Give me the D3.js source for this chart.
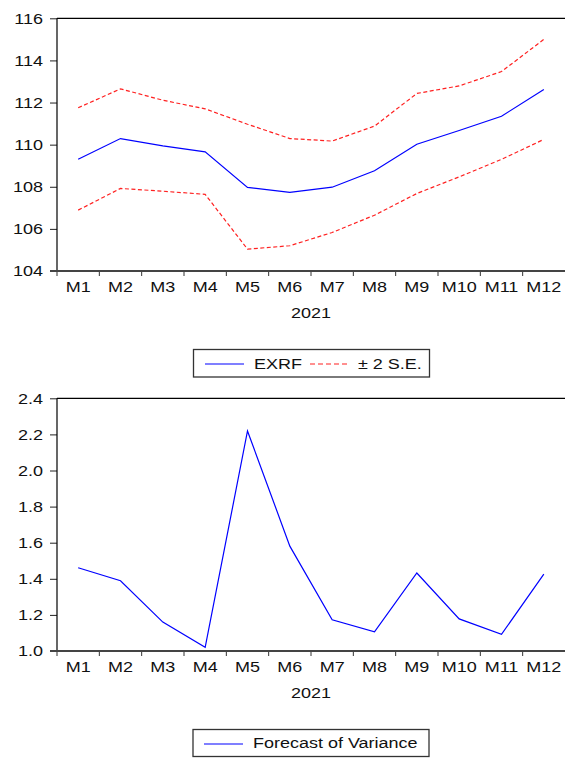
<!DOCTYPE html>
<html>
<head>
<meta charset="utf-8">
<script src="https://cdn.jsdelivr.net/npm/d3@7"></script>
<style>
  html, body { margin: 0; padding: 0; background: #fff; }
  svg { display: block; }
  text { font-family: "Liberation Sans", Arial, sans-serif; fill: #111; }
</style>
</head>
<body>
<script>
// ---------- data ----------
const months = ["M1","M2","M3","M4","M5","M6","M7","M8","M9","M10","M11","M12"];
const exrf    = [109.31,110.29,109.94,109.66,107.97,107.73,107.98,108.76,110.02,110.67,111.35,112.62];
const upperSE = [111.75,112.65,112.11,111.70,110.97,110.29,110.17,110.88,112.43,112.79,113.47,115.00];
const lowerSE = [106.89,107.92,107.79,107.64,105.04,105.20,105.83,106.65,107.68,108.47,109.30,110.25];
const variance = [1.461,1.389,1.160,1.020,2.219,1.581,1.173,1.106,1.432,1.178,1.092,1.426];
const topTicks = [104,106,108,110,112,114,116];
const bottomTicks = [1.0,1.2,1.4,1.6,1.8,2.0,2.2,2.4];
const yearLabel = "2021";
const legendTop = ["EXRF", "± 2 S.E."];
const legendBottom = ["Forecast of Variance"];

// ---------- layout ----------
const W = 565, H = 760;
const SX = 1.2;        // horizontal stretch of the text
const FS = 15;
const left = 57, right = 565;

const svg = d3.select("body").append("svg").attr("width", W).attr("height", H);

const x = d3.scaleBand().domain(months).range([left, right]);
const cx = m => x(m) + x.bandwidth() / 2;

function stretchText(sel) {
  sel.each(function () {
    const t = d3.select(this);
    const xv = +t.attr("x") || 0;
    t.attr("x", xv / SX).attr("transform", `scale(${SX},1)`);
  });
}
function label(g, px, py, txt, anchor) {
  g.append("g").attr("transform", `translate(${px},${py}) scale(${SX},1)`)
    .append("text").attr("text-anchor", anchor || "start")
    .style("font-size", FS + "px").text(txt);
}

function panel(top, bottom, domain, ticks, fmt, series) {
  const g = svg.append("g");
  const y = d3.scaleLinear().domain(domain).range([bottom, top]);

  // y axis
  const ya = g.append("g").attr("transform", `translate(${left},0)`)
    .call(d3.axisLeft(y).tickValues(ticks).tickFormat(fmt).tickSize(7).tickPadding(7));
  ya.select(".domain").remove();
  ya.selectAll(".tick line").attr("stroke", "#222");
  ya.selectAll(".tick text").style("font-size", FS + "px")
    .style("font-family", '"Liberation Sans", Arial, sans-serif').attr("fill", "#111");
  stretchText(ya.selectAll(".tick text"));

  // x axis labels (band centers)
  const xa = g.append("g").attr("transform", `translate(0,${bottom})`)
    .call(d3.axisBottom(x).tickSize(0).tickPadding(10));
  xa.select(".domain").remove();
  xa.selectAll(".tick text").style("font-size", FS + "px")
    .style("font-family", '"Liberation Sans", Arial, sans-serif').attr("fill", "#111");
  stretchText(xa.selectAll(".tick text"));

  // x boundary ticks
  g.append("g").selectAll("line").data(months).join("line")
    .attr("x1", d => x(d)).attr("x2", d => x(d))
    .attr("y1", bottom).attr("y2", bottom + 5)
    .attr("stroke", "#333").attr("stroke-width", 1);

  // frame
  g.append("line").attr("x1", left).attr("x2", right).attr("y1", top).attr("y2", top)
    .attr("stroke", "#000").attr("stroke-width", 1.3);
  g.append("line").attr("x1", left).attr("x2", left).attr("y1", top).attr("y2", bottom)
    .attr("stroke", "#000").attr("stroke-width", 1.2);
  g.append("line").attr("x1", left - 7).attr("x2", right).attr("y1", bottom).attr("y2", bottom)
    .attr("stroke", "#444").attr("stroke-width", 1.8);

  // series
  series.forEach(s => {
    const line = d3.line().x((d, i) => cx(months[i])).y(d => y(d));
    g.append("path").datum(s.values).attr("d", line)
      .attr("fill", "none").attr("stroke", s.color).attr("stroke-width", 1.2)
      .attr("stroke-dasharray", s.dash || null);
  });

  // year label
  label(g, (left + right) / 2, bottom + 47, yearLabel, "middle");
  return g;
}

panel(18.3, 271, [104, 116], topTicks, d3.format("d"), [
  { values: upperSE, color: "#ff2020", dash: "4,2.5" },
  { values: lowerSE, color: "#ff2020", dash: "4,2.5" },
  { values: exrf, color: "#0000ff" }
]);

panel(398.3, 651, [1.0, 2.4], bottomTicks, d3.format(".1f"), [
  { values: variance, color: "#0000ff" }
]);

// ---------- legends ----------
function legendBox(x0, y0, w, h) {
  svg.append("rect").attr("x", x0).attr("y", y0).attr("width", w).attr("height", h)
    .attr("fill", "#fff").attr("stroke", "#333").attr("stroke-width", 1.3);
}
// top legend
legendBox(193.5, 349.5, 236, 27.5);
svg.append("line").attr("x1", 205).attr("x2", 244).attr("y1", 364).attr("y2", 364)
  .attr("stroke", "#0000ff").attr("stroke-width", 1.1);
label(svg, 254, 368.5, legendTop[0]);
svg.append("line").attr("x1", 310).attr("x2", 350).attr("y1", 364).attr("y2", 364)
  .attr("stroke", "#ff2020").attr("stroke-width", 1.1).attr("stroke-dasharray", "5,3");
label(svg, 358, 368.5, legendTop[1]);

// bottom legend
legendBox(193, 729.5, 236, 27);
svg.append("line").attr("x1", 204).attr("x2", 243).attr("y1", 744).attr("y2", 744)
  .attr("stroke", "#0000ff").attr("stroke-width", 1.1);
label(svg, 253, 748, legendBottom[0]);
</script>
</body>
</html>
